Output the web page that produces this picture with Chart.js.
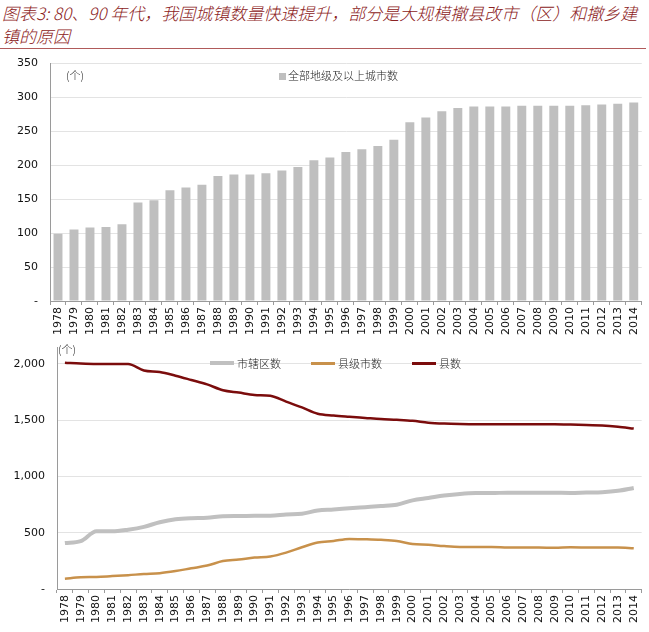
<!DOCTYPE html>
<html>
<head>
<meta charset="utf-8">
<script src="https://cdn.jsdelivr.net/npm/chart.js@4.4.1/dist/chart.umd.min.js"></script>
<style>
  body { margin: 0; background: #fff; width: 649px; height: 632px; position: relative; overflow: hidden; }
  .title { position: absolute; left: 2px; top: 1px; width: 645px; font-family: "Noto Sans CJK SC", sans-serif; font-style: italic; font-weight: 300; font-size: 17px; line-height: 23px; color: #8c2222; }
  .rule { position: absolute; left: 0; top: 48px; width: 646px; height: 1px; background: #b05a5a; }
  canvas { position: absolute; left: 0; }
  .txt { position: absolute; font-family: "Noto Sans CJK SC", sans-serif; font-weight: 300; font-size: 11px; color: #222; white-space: nowrap; }
  .sq { display: inline-block; width: 7px; height: 7px; background: #bfbfbf; margin-right: 2px; vertical-align: 0px; }
  .ln { display: inline-block; width: 24px; height: 3px; margin-right: 3px; vertical-align: 3px; }
</style>
</head>
<body>
<div class="title">图表3: 80、90 年代，我国城镇数量快速提升，部分是大规模撤县改市（区）和撤乡建镇的原因</div>
<div class="rule"></div>

<canvas id="graficoCiudades" width="649" height="282" style="top:55px"></canvas>
<canvas id="graficoCondados" width="649" height="292" style="top:340px"></canvas>

<div class="txt" style="left:66px; top:67px;">(个)</div>
<div class="txt" style="left:279px; top:67px;"><span class="sq"></span>全部地级及以上城市数</div>

<div class="txt" style="left:58px; top:341px;">(个)</div>
<div class="txt" style="left:210px; top:355px;"><span class="ln" style="background:#c0c0c0;height:4px"></span>市辖区数</div>
<div class="txt" style="left:311px; top:355px;"><span class="ln" style="background:#c8914b"></span>县级市数</div>
<div class="txt" style="left:412px; top:355px;"><span class="ln" style="background:#7b0c0c"></span>县数</div>

<script>
const anios = ['1978','1979','1980','1981','1982','1983','1984','1985','1986','1987','1988','1989','1990','1991','1992','1993','1994','1995','1996','1997','1998','1999','2000','2001','2002','2003','2004','2005','2006','2007','2008','2009','2010','2011','2012','2013','2014'];

const ciudadesPrefectura = [99,105,108,109,113,145,148,163,167,171,184,186,186,188,192,197,207,211,219,223,228,237,263,270,279,284,286,286,286,287,287,287,287,288,289,290,292];

const distritos = [408,425,512,512,527,552,593,620,629,632,647,648,651,650,662,669,697,706,717,727,737,749,787,808,830,845,852,852,856,856,856,855,853,857,860,872,897];
const ciudadesCondado = [92,104,107,115,123,133,140,159,184,208,248,262,279,289,323,371,413,427,445,442,437,427,400,393,381,374,374,374,369,368,368,367,370,369,368,368,361];
const condados = [2011,2003,1999,2000,1998,1942,1928,1895,1857,1818,1766,1745,1724,1716,1665,1613,1557,1541,1530,1520,1510,1503,1494,1478,1470,1466,1464,1464,1463,1463,1463,1464,1461,1456,1453,1442,1425];

const marcasInferior = [0, 500, 1000, 1500, 2000];

const fuenteEje = { family: 'DejaVu Sans', size: 11 };

function formatoNumero(v) {
    if (v === 0) return '-';
    return v.toLocaleString('en-US');
}

function ejeX() {
    return {
        offset: true,
        border: { color: '#9a9a9a' },
        grid: { offset: true, drawOnChartArea: false, drawTicks: true, tickLength: 4, color: '#9a9a9a' },
        ticks: { color: '#111', font: fuenteEje, maxRotation: 90, minRotation: 90, autoSkip: false, padding: 2 }
    };
}

// separacion de las etiquetas del eje y sin inflar el margen superior
const gridY = { color: '#e3e3e3', drawTicks: true, tickLength: 12, tickColor: 'rgba(0,0,0,0)' };

function serie(label, data, color, ancho) {
    return { label, data, borderColor: color, borderWidth: ancho, pointRadius: 0, cubicInterpolationMode: 'monotone' };
}

new Chart(document.getElementById('graficoCiudades'), {
    type: 'bar',
    data: {
        labels: anios,
        datasets: [{
            label: '全部地级及以上城市数',
            data: ciudadesPrefectura,
            backgroundColor: '#bfbfbf',
            barPercentage: 0.56,
            categoryPercentage: 1
        }]
    },
    options: {
        responsive: false,
        animation: false,
        layout: { padding: { top: 8, right: 4, left: 0, bottom: 0 } },
        plugins: { legend: { display: false }, tooltip: { enabled: false } },
        scales: {
            x: Object.assign(ejeX(), { afterFit: s => { s.height = 36; } }),
            y: {
                min: 0, max: 350,
                border: { color: '#9a9a9a' },
                grid: gridY,
                ticks: { stepSize: 50, color: '#111', font: fuenteEje, padding: 0, callback: formatoNumero },
                afterFit: s => { s.width = 50; }
            }
        }
    }
});

new Chart(document.getElementById('graficoCondados'), {
    type: 'line',
    data: {
        labels: anios,
        datasets: [
            serie('市辖区数', distritos, '#c0c0c0', 4),
            serie('县级市数', ciudadesCondado, '#c8914b', 2.5),
            serie('县数', condados, '#7b0c0c', 2.5)
        ]
    },
    options: {
        responsive: false,
        animation: false,
        layout: { padding: { top: 7, right: 4, left: 0, bottom: 0 } },
        plugins: { legend: { display: false }, tooltip: { enabled: false } },
        scales: {
            x: Object.assign(ejeX(), { afterFit: s => { s.height = 43; } }),
            y: {
                min: 0, max: 2150,
                border: { color: '#9a9a9a' },
                grid: gridY,
                ticks: { color: '#111', font: fuenteEje, padding: 0, autoSkip: false, callback: formatoNumero },
                afterBuildTicks: s => { s.ticks = marcasInferior.map(v => ({ value: v })); },
                afterFit: s => { s.width = 57; }
            }
        }
    }
});
</script>
</body>
</html>
